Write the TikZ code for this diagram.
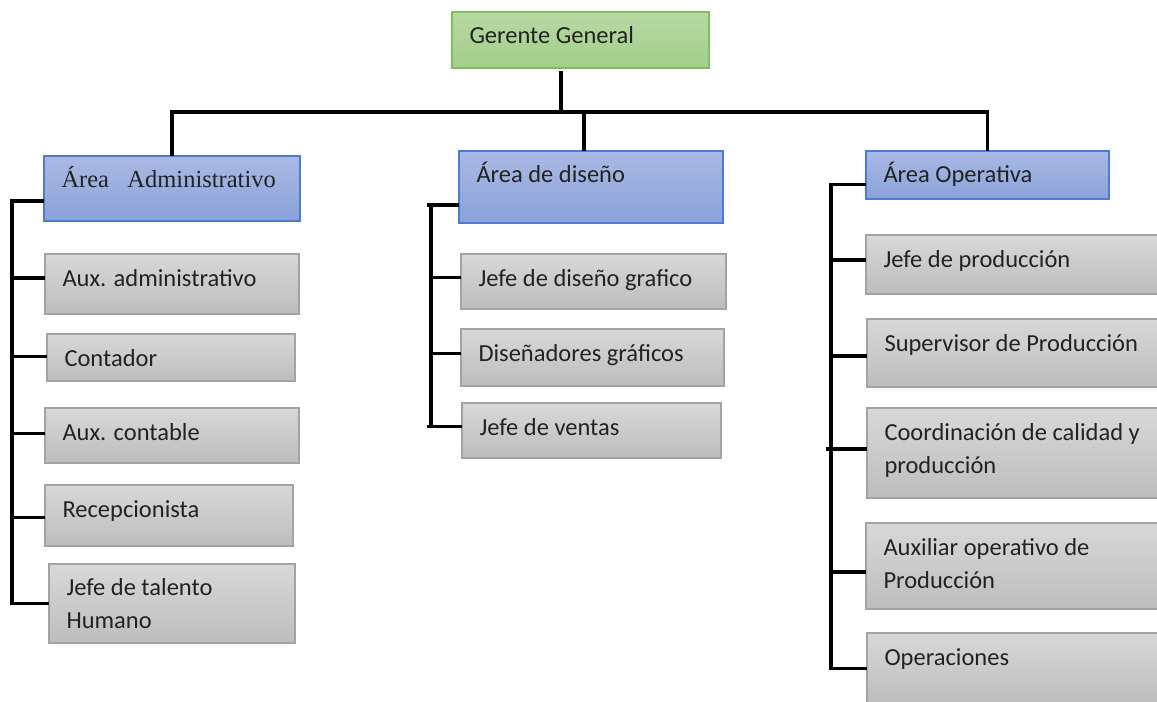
\documentclass[tikz,border=0pt]{standalone}
\usepackage{fontspec}
\setmainfont{Carlito}
\newfontfamily\serifA{Liberation Serif}
\usetikzlibrary{calc}
\definecolor{gtop}{HTML}{D8D8D8}
\definecolor{gbot}{HTML}{BDBDBD}
\definecolor{gline}{HTML}{A3A3A3}
\definecolor{btop}{HTML}{AAB9E4}
\definecolor{bbot}{HTML}{8AA2D9}
\definecolor{bline}{HTML}{4E7BD0}
\definecolor{vtop}{HTML}{B7D9A3}
\definecolor{vbot}{HTML}{A3CE8A}
\definecolor{vline}{HTML}{7FBF5C}
\definecolor{txtc}{HTML}{222222}
% #1 baseline offset of the last text line, #2 style, #3 name, #4-#7 corners, #8 text
\newcommand\orgbox[8][32]{%
  \node[#2, minimum width={((#6)-(#4))*1bp}, minimum height={((#7)-(#5))*1bp}] (#3) at (#4,#5) {};
  \node[txt] (#3t) at ($(#3.north west)+(17.5,#1)$) {#8};
}
\begin{document}
\begin{tikzpicture}[x=1bp,y=-1bp,
  box/.style={rectangle, inner sep=0pt, outer sep=0pt, anchor=north west, line width=1.2bp},
  graybox/.style={box, draw=gline, top color=gtop, bottom color=gbot},
  bluebox/.style={box, draw=bline, top color=btop, bottom color=bbot},
  greenbox/.style={box, draw=vline, top color=vtop, bottom color=vbot},
  txt/.style={inner sep=0pt, outer sep=0pt, anchor=base west, align=left, text=txtc,
    font=\fontsize{24.5bp}{33bp}\selectfont},
  conn/.style={line width=3.2bp, black}]
\useasboundingbox (0,0) rectangle (1157,702);
\clip (0,0) rectangle (1157,702);
\fill[white] (0,0) rectangle (1157,702);

% top
\orgbox{greenbox}{g}{452}{12}{709}{68}{Gerente General}
% areas
\orgbox{bluebox}{a1}{44}{156}{300}{221}{\serifA Área\ \ \ Administrativo}
\orgbox{bluebox}{a2}{459}{151}{723}{223}{Área de diseño}
\orgbox{bluebox}{a3}{866}{151}{1109}{199}{Área Operativa}
% left column
\orgbox{graybox}{b1}{45}{254}{299}{314}{Aux. administrativo}
\orgbox{graybox}{b2}{47}{334}{295}{381}{Contador}
\orgbox{graybox}{b3}{45}{408}{299}{463}{Aux. contable}
\orgbox{graybox}{b4}{45}{485}{293}{546}{Recepcionista}
\orgbox[64]{graybox}{b5}{49}{564}{295}{643}{Jefe de talento\\Humano}
% middle column
\orgbox{graybox}{c1}{461}{254}{726}{309}{Jefe de diseño grafico}
\orgbox{graybox}{c2}{461}{329}{724}{386}{Diseñadores gráficos}
\orgbox{graybox}{c3}{462}{403}{721}{458}{Jefe de ventas}
% right column
\orgbox{graybox}{d1}{866}{235}{1170}{294}{Jefe de producción}
\orgbox{graybox}{d2}{867}{319}{1170}{387}{Supervisor de Producción}
\orgbox[65]{graybox}{d3}{867}{408}{1170}{498}{Coordinación de calidad y\\producción}
\orgbox[65]{graybox}{d4}{866}{523}{1170}{609}{Auxiliar operativo de\\Producción}
\orgbox{graybox}{d5}{867}{633}{1170}{704}{Operaciones}

% connectors from the top
\coordinate (bus) at (561,112);
\draw[conn] ([yshift=-3bp]g.south -| bus) -- (bus);
\draw[conn] (a1.north) -- (a1.north |- bus) -- (a3.north |- bus) -- (a3.north);
\coordinate (dz) at (584,112);
\draw[conn] (dz) -- (dz |- a2.north);

% left bracket
\coordinate (L1) at (12,400);
\draw[conn] ([yshift=20bp]a1.south west) -| (L1) |- (b5.west);
\foreach \n/\s in {b1/6,b2/1,b3/2,b4/-2}
  \draw[conn] ([yshift=\s bp]\n.west) coordinate (tmp) -- (tmp -| L1);

% middle bracket
\coordinate (L2) at (431,300);
\draw[conn] ([yshift=18bp]a2.south west) coordinate (m0) -- ($(m0 -| L2)+(-4,0)$);
\foreach \n/\s/\m in {c1/4/m1,c2/4/m2}
  \draw[conn] ([yshift=\s bp]\n.west) coordinate (\m) -- (\m -| L2);
\draw[conn] ([yshift=4bp]c3.west) coordinate (m3) -- ($(m3 -| L2)+(-4,0)$);
\draw[conn] (m0 -| L2) -- (m3 -| L2);

% right bracket
\coordinate (L3) at (831,400);
\draw[conn] ([yshift=14.5bp]a3.south west) -| (L3) |- (d5.west);
\foreach \n/\s in {d1/4.5,d2/-3,d4/-6}
  \draw[conn] ([yshift=\s bp]\n.west) coordinate (tmp) -- (tmp -| L3);
\draw[conn] ([yshift=4bp]d3.west) coordinate (tmp) -- ($(tmp -| L3)+(-5,0)$);
\end{tikzpicture}
\end{document}
